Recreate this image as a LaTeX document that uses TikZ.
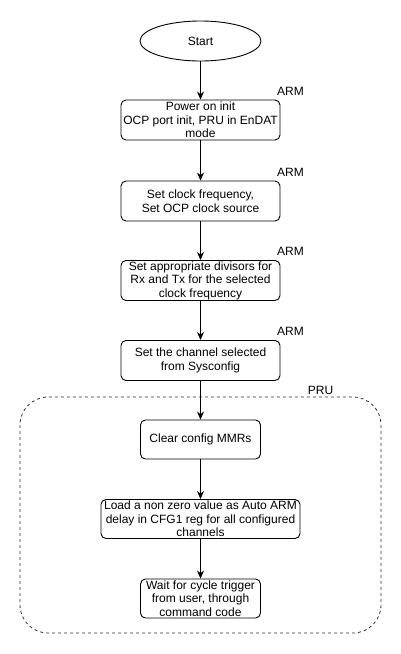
\documentclass[tikz,border=0pt]{standalone}
\usepackage{fontspec}
\setmainfont{Liberation Sans}
\usetikzlibrary{arrows.meta,shapes.geometric}
\begin{document}
\begin{tikzpicture}[x=1pt,y=-1pt,
  box/.style={draw,rounded corners=5pt,line width=0.9pt,align=center,inner sep=0pt,font=\fontsize{12}{13.5}\selectfont},
  lbl/.style={font=\fontsize{12}{14}\selectfont,inner sep=0pt},
  arr/.style={-{Stealth[length=8pt,width=7pt,inset=2.5pt]},line width=0.9pt}]
\useasboundingbox (0,0) rectangle (401,654);
\draw[dash pattern=on 3pt off 3pt,line width=0.8pt,rounded corners=28pt,draw=black!80] (20,397) rectangle (381,633);
\node[draw,ellipse,line width=0.9pt,minimum width=121pt,minimum height=40pt,inner sep=0pt,font=\fontsize{12}{14}\selectfont] (start) at (200.5,41) {Start};
\node[box,minimum width=159pt,minimum height=40pt] (b1) at (200.5,120) {Power on init\\OCP port init, PRU in EnDAT\\mode};
\node[box,minimum width=159pt,minimum height=40pt] (b2) at (200.5,201) {Set clock frequency,\\Set OCP clock source};
\node[box,minimum width=159pt,minimum height=40pt] (b3) at (200.5,280.5) {Set appropriate divisors for\\Rx and Tx for the selected\\clock frequency};
\node[box,minimum width=159pt,minimum height=40pt] (b4) at (200.5,360.5) {Set the channel selected\\from Sysconfig};
\node[box,minimum width=120pt,minimum height=39pt] (b5) at (200.5,439.5) {Clear config MMRs};
\node[box,minimum width=199pt,minimum height=39pt] (b6) at (200.5,519) {Load a non zero value as Auto ARM\\delay in CFG1 reg for all configured\\channels};
\node[box,minimum width=120pt,minimum height=39pt] (b7) at (200.5,598.5) {Wait for cycle trigger\\from user, through\\command code};
\node[lbl] (a1) at (290.5,91) {ARM};
\node[lbl] (a2) at (290.5,172) {ARM};
\node[lbl] (a3) at (290.5,251) {ARM};
\node[lbl] (a4) at (290.5,331) {ARM};
\node[lbl] (pru) at (320.5,390) {PRU};
\draw[arr] (start) -- (b1);
\draw[arr] (b1) -- (b2);
\draw[arr] (b2) -- (b3);
\draw[arr] (b3) -- (b4);
\draw[arr] (b4) -- (b5);
\draw[arr] (b5) -- (b6);
\draw[arr] (b6) -- (b7);
\end{tikzpicture}
\end{document}
